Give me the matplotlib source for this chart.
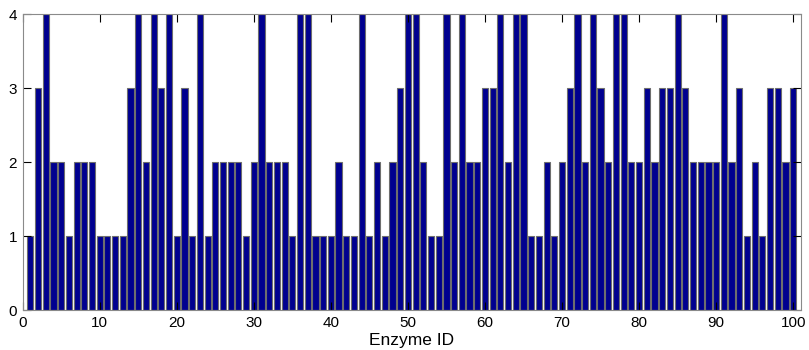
import numpy as np
import matplotlib
matplotlib.use("Agg")
import matplotlib.pyplot as plt

plt.rcParams['font.family'] = ['Liberation Sans', 'DejaVu Sans']

enzyme_id = np.arange(1, 101)
counts = [
    1, 3, 4, 2, 2, 1, 2, 2, 2, 1,
    1, 1, 1, 3, 4, 2, 4, 3, 4, 1,
    3, 1, 4, 1, 2, 2, 2, 2, 1, 2,
    4, 2, 2, 2, 1, 4, 4, 1, 1, 1,
    2, 1, 1, 4, 1, 2, 1, 2, 3, 4,
    4, 2, 1, 1, 4, 2, 4, 2, 2, 3,
    3, 4, 2, 4, 4, 1, 1, 2, 1, 2,
    3, 4, 2, 4, 3, 2, 4, 4, 2, 2,
    3, 2, 3, 3, 4, 3, 2, 2, 2, 2,
    4, 2, 3, 1, 2, 1, 3, 3, 2, 3,
]
xticks = [0, 10, 20, 30, 40, 50, 60, 70, 80, 90, 100]
yticks = [0, 1, 2, 3, 4]

fig = plt.figure(figsize=(8.09, 3.5), dpi=100)
ax = fig.add_axes([0.028, 0.114, 0.962, 0.846])
ax.bar(enzyme_id, counts, width=0.8, color='#00008f', edgecolor='#6e6e6e', linewidth=0.8)

ax.set_xlim(0, 101)
ax.set_ylim(0, 4)
ax.set_xticks(xticks)
ax.set_yticks(yticks)
ax.tick_params(direction='in', top=True, right=True, length=5.5, width=0.8,
               labelsize=11, colors='black', pad=4)
for s in ax.spines.values():
    s.set_color('#8a8a8a')
    s.set_linewidth(0.8)
ax.set_xlabel('Enzyme ID', fontsize=12.5, labelpad=2.5)

fig.savefig('out.png', dpi=100)
